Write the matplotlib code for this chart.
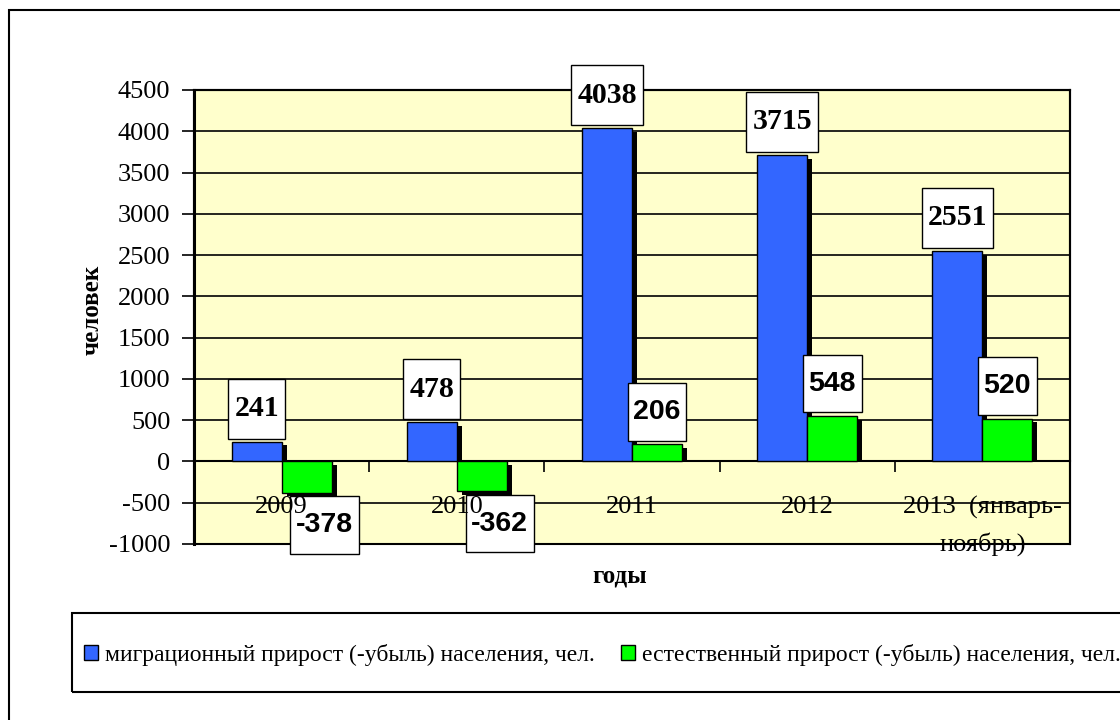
import numpy as np
import matplotlib.pyplot as plt
from matplotlib.patches import Rectangle, Patch
from matplotlib.path import Path

# Data
years = ["2009", "2010", "2011", "2012", "2013  (январь-\nноябрь)"]
migration = [241, 478, 4038, 3715, 2551]
natural = [-378, -362, 206, 548, 520]
legend_labels = ["миграционный прирост (-убыль) населения, чел.",
                 "естественный прирост (-убыль) населения, чел."]

blue = "#3366FF"
green = "#00FF00"
bg = "#FFFFCC"
serif = ["Liberation Serif", "DejaVu Serif"]
sans = ["Liberation Sans", "DejaVu Sans"]
plt.rcParams["axes.unicode_minus"] = False


def tall_box(x0, y0, width, height, mutation_size):
    # white label box with extra vertical padding (like Excel labels)
    px = 0.2 * mutation_size
    py = 0.55 * mutation_size
    x0, y0 = x0 - px, y0 - py
    x1, y1 = x0 + width + 2 * px, y0 + height + 2 * py
    return Path([(x0, y0), (x1, y0), (x1, y1), (x0, y1), (x0, y0)],
                closed=True)


fig = plt.figure(figsize=(11.2, 7.2), dpi=100)
W, H = 1120, 720
ax = fig.add_axes([194 / W, 1 - 544 / H, 876 / W, 454 / H])
ax.set_facecolor(bg)

x = np.arange(len(years))
w = 0.285
dx = 5 / 175.2          # shadow offset, categories
dy = 45                 # shadow offset, value units

# shadows
for xs, vals in [(x - w / 2, migration), (x + w / 2, natural)]:
    vals = np.array(vals, dtype=float)
    bottoms = np.where(vals > 0, 0, -dy)
    heights = np.where(vals > 0, vals - dy, vals)
    ax.bar(xs + dx, heights, w, bottom=bottoms, color="black", zorder=2)

ax.bar(x - w / 2, migration, w, color=blue, edgecolor="black", linewidth=1,
       zorder=3)
ax.bar(x + w / 2, natural, w, color=green, edgecolor="black", linewidth=1,
       zorder=3)

ax.set_xlim(-0.5, len(years) - 0.5)
ax.set_ylim(-1000, 4500)
ax.set_yticks(np.arange(-1000, 4501, 500))
ax.grid(axis="y", color="black", linewidth=1.2)
ax.set_axisbelow(True)
ax.tick_params(axis="y", direction="out", length=9, width=1.2, pad=8,
               labelsize=19)
for lab in ax.get_yticklabels():
    lab.set_family(serif)

# x axis on the zero line
ax.spines["bottom"].set_position(("data", 0))
ax.spines["bottom"].set_linewidth(1.5)
ax.set_xticks(x[:-1] + 0.5)
ax.set_xticklabels([])
ax.set_xticks(x, minor=True)
ax.set_xticklabels(years, minor=True, fontsize=19, family=serif,
                   linespacing=1.7)
ax.tick_params(axis="x", which="major", direction="out", length=8, width=1.2)
ax.tick_params(axis="x", which="minor", length=0, pad=25)
ax.xaxis.set_zorder(7)
for s in ["left", "right", "top"]:
    ax.spines[s].set_linewidth(1.5)
ax.spines["left"].set_linewidth(2.2)
ax.add_patch(Rectangle((0, 0), 1, 1, transform=ax.transAxes, fill=False,
                       edgecolor="black", linewidth=1.5, zorder=5,
                       clip_on=False))

# data labels
for xi, v in zip(x, migration):
    ax.annotate(str(v), (xi - w / 2, v), xytext=(0, 14),
                textcoords="offset points", ha="center", va="bottom",
                fontsize=21.5, fontweight="bold", family=serif, zorder=6,
                bbox=dict(boxstyle=tall_box, fc="white", ec="black", lw=1))
for xi, v in zip(x, natural):
    if v >= 0:
        off, va = (0, 14), "bottom"
    else:
        off, va = (13, -14), "top"
    ax.annotate(str(v), (xi + w / 2, v), xytext=off,
                textcoords="offset points", ha="center", va=va,
                fontsize=20.5, fontweight="bold", family=sans, zorder=6,
                bbox=dict(boxstyle=tall_box, fc="white", ec="black", lw=1))

fig.text(92 / W, 1 - 310 / H, "человек", rotation=90, ha="center",
         va="center", fontsize=18, fontweight="bold", family=serif)
fig.text(620 / W, 1 - 576 / H, "годы", ha="center", va="center",
         fontsize=18, fontweight="bold", family=serif)

# outer frame and legend frame
fig.add_artist(Rectangle((9 / W, -0.1), 1.2, 1.1 - 10 / H,
                         transform=fig.transFigure, fill=False,
                         edgecolor="black", linewidth=1.5))
fig.add_artist(Rectangle((72 / W, 1 - 692 / H), 1.2, 79 / H,
                         transform=fig.transFigure, fill=False,
                         edgecolor="black", linewidth=1.5))

handles = [Patch(facecolor=blue, edgecolor="black"),
           Patch(facecolor=green, edgecolor="black")]
fig.legend(handles, legend_labels, loc="center left",
           bbox_to_anchor=(84 / W, 1 - 655 / H), ncol=2, frameon=False,
           prop={"family": serif, "size": 17}, handlelength=0.6,
           handleheight=0.6, handletextpad=0.3, columnspacing=1.1,
           borderpad=0, borderaxespad=0)

fig.savefig("out.png", dpi=100)
